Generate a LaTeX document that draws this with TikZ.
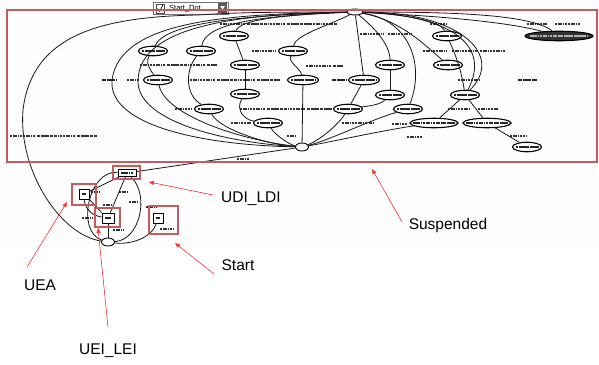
\documentclass[tikz,border=0pt]{standalone}
\usepackage{fontspec}
\setmainfont{Liberation Sans}
\usetikzlibrary{shapes.geometric,arrows.meta}
\definecolor{boxred}{RGB}{200,90,95}
\definecolor{callred}{RGB}{255,45,45}
\begin{document}
\begin{tikzpicture}[x=1pt,y=-1pt,
  edge/.style={line width=0.8pt, black!90},
  inlbl/.style={line width=1.5pt, black!85,
    dash pattern=on 2.5pt off 0.5pt on 1pt off 0.4pt on 3pt off 0.5pt on 1.5pt off 0.4pt},
  barpic/.style={path picture={\draw[inlbl] ([xshift=3pt]path picture bounding box.west) -- ([xshift=-3pt]path picture bounding box.east);}},
  gnode/.style={ellipse, draw, line width=1.1pt, minimum width=#1, minimum height=9.5pt,
    inner sep=0pt, fill=white, barpic},
  gnode/.default=29pt,
  darknode/.style={ellipse, draw, line width=1.1pt, minimum width=#1, minimum height=9.5pt,
    inner sep=0pt, fill=black!80,
    path picture={\draw[inlbl, white!70!black] ([xshift=5pt]path picture bounding box.west) -- ([xshift=-5pt]path picture bounding box.east);}},
  hub/.style={ellipse, draw, line width=0.9pt, minimum width=13pt, minimum height=8pt,
    inner sep=0pt, fill=white},
  sqnode/.style={rectangle, draw, line width=0.8pt, minimum width=#1, minimum height=9pt,
    inner sep=0pt, fill=white, barpic},
  lbl/.style={line width=1.5pt, black!80,
    dash pattern=on 2pt off 0.5pt on 1pt off 0.5pt on 3pt off 0.6pt on 1.5pt off 0.5pt on 2.5pt off 1.2pt},
  boldlbl/.style={line width=2.6pt, black!85,
    dash pattern=on 4pt off 0.6pt on 3pt off 0.5pt on 5pt off 0.6pt},
  frame/.style={draw=boxred, line width=1.4pt},
  callout/.style={draw=callred, line width=0.6pt, -{Triangle[length=5pt,width=4pt]}},
  tag/.style={font=\fontsize{15.5}{16}\selectfont, inner sep=0pt}
]
\useasboundingbox (0,0) rectangle (599,364);

% faint screen area behind the graph
\fill[black!0.8] (0,0) rectangle (596,248);

% combo box on top of the frame
\draw[black!55, fill=white] (153,2) rectangle (228,14);
\draw[black!70, line width=0.5pt] (156,4) rectangle (164,13);
\draw[black, line width=0.7pt] (157.5,8.5) -- (159.5,11.2) -- (163,5);
\node[anchor=west, font=\fontsize{7.5}{8}\selectfont, inner sep=0pt] (combo) at (169,8.5) {Start\_Dot};
\fill[black!65] (218,3) rectangle (227,13);
\fill[white] (220,6) -- (225,6) -- (222.5,9.5) -- cycle;

% edge labels (drawn first so that the states sit on top)
\draw[lbl] (10,136) -- (97,136);
\draw[boldlbl] (102,80) -- (116,80);
\draw[lbl] (127,80) -- (140,80);
\draw[lbl] (140,65) -- (217,65);
\draw[lbl] (190,80) -- (280,80);
\draw[lbl] (175,109) -- (192,109);
\draw[lbl] (240,109) -- (332,109);
\draw[lbl] (231,123) -- (251,123);
\draw[lbl] (342,123) -- (373,123);
\draw[lbl] (252,51) -- (275,51);
\draw[lbl] (306,66) -- (343,66);
\draw[lbl] (220,24) -- (337,24);
\draw[lbl] (360,34) -- (383,34);
\draw[lbl] (388,34) -- (412,34);
\draw[lbl] (423,51) -- (447,51);
\draw[lbl] (452,51) -- (477,51);
\draw[lbl] (480,51) -- (505,51);
\draw[lbl] (458,80) -- (480,80);
\draw[lbl] (448,109) -- (470,109);
\draw[lbl] (478,109) -- (498,109);
\draw[lbl] (392,124) -- (407,124);
\draw[lbl] (407,137) -- (422,137);
\draw[lbl] (510,136) -- (527,136);
\draw[lbl] (430,24) -- (447,24);
\draw[lbl] (527,24) -- (547,24);
\draw[lbl] (555,24) -- (580,24);
\draw[lbl] (287,136) -- (296,136);
\draw[lbl] (237,159) -- (250,159);
\draw[boldlbl] (332,80) -- (347,80);
\draw[boldlbl] (518,80) -- (537,80);

% ---------------- main state graph ----------------
\node[hub, minimum width=16pt, minimum height=6pt] (T) at (355,12) {};
\node[hub] (H) at (302,147) {};
\node[gnode] (e1) at (153,51) {};
\node[gnode] (e2) at (201,51) {};
\node[gnode] (e3) at (234,36) {};
\node[gnode] (e4) at (293,51) {};
\node[gnode] (e5) at (245,65) {};
\node[gnode] (e6) at (158,80) {};
\node[gnode=31pt] (e7) at (303,80) {};
\node[gnode] (e8) at (245,94) {};
\node[gnode] (e9) at (209,109) {};
\node[gnode] (e10) at (268,123) {};
\node[gnode=31pt] (e11) at (364,80) {};
\node[gnode] (e12) at (390,65) {};
\node[gnode] (e13) at (447,36) {};
\node[gnode] (e14) at (448,65) {};
\node[gnode] (e15) at (390,95) {};
\node[gnode] (e16) at (348,109) {};
\node[gnode] (e17) at (465,95) {};
\node[gnode] (e18) at (408,109) {};
\node[gnode=48pt] (e19) at (434,123) {};
\node[gnode=48pt] (e20) at (487,123) {};
\node[gnode] (e21) at (527,147) {};
\node[darknode=68pt] (e22) at (559,36) {};

% left fan
\draw[edge] (T) .. controls (230,14) and (120,20) .. (112,80) .. controls (108,125) and (200,145) .. (H);
\draw[edge] (T) .. controls (240,14) and (140,25) .. (138,80) .. controls (136,120) and (220,142) .. (H);
\draw[edge] (T) .. controls (250,15) and (165,22) .. (e1);
\draw[edge] (e1) .. controls (145,62) and (150,70) .. (e6);
\draw[edge] (e6) .. controls (165,115) and (240,140) .. (H);
\draw[edge] (T) .. controls (250,16) and (205,25) .. (e2);
\draw[edge] (e2) .. controls (185,70) and (185,95) .. (e9);
\draw[edge] (e9) .. controls (220,130) and (270,145) .. (H);
\draw[edge] (T) .. controls (280,15) and (240,20) .. (e3);
\draw[edge] (e3) -- (e5);
\draw[edge] (e5) -- (e8);
\draw[edge] (e8) .. controls (235,110) and (245,120) .. (e10);
\draw[edge] (e10) .. controls (275,135) and (290,145) .. (H);
\draw[edge] (T) .. controls (330,25) and (295,35) .. (e4);
\draw[edge] (e4) .. controls (288,62) and (300,68) .. (e7);
\draw[edge] (e7) -- (H);
% right fan
\draw[edge] (T) -- (e11);
\draw[edge] (e11) -- (e16);
\draw[edge] (e16) .. controls (338,125) and (320,140) .. (H);
\draw[edge] (T) .. controls (410,20) and (425,65) .. (e18);
\draw[edge] (e18) .. controls (370,120) and (330,140) .. (H);
\draw[edge] (T) .. controls (375,28) and (390,45) .. (e12);
\draw[edge] (e12) -- (e15);
\draw[edge] (e15) .. controls (380,105) and (368,106) .. (e16);
\draw[edge] (T) .. controls (400,14) and (440,20) .. (e13);
\draw[edge] (T) .. controls (400,20) and (425,45) .. (e14);
\draw[edge] (e13) .. controls (458,60) and (462,75) .. (e17);
\draw[edge] (T) .. controls (450,15) and (492,45) .. (e17);
\draw[edge] (T) .. controls (460,12) and (505,55) .. (e17);
\draw[edge] (e17) -- (e19);
\draw[edge] (e17) -- (e20);
\draw[edge] (e20) -- (e21);
\draw[edge] (e19) .. controls (385,130) and (330,142) .. (H);
\draw[edge] (T) .. controls (450,12) and (530,14) .. (e22);
\draw[edge] (T) .. controls (460,17) and (515,24) .. (e22);

% ---------------- start cluster ----------------
\draw[lbl] (119,192) -- (128,192);
\draw[lbl] (91,192) -- (100,192);
\draw[lbl] (129,202) -- (137,202);
\draw[lbl] (82,218) -- (92,218);
\draw[lbl] (103,205) -- (112,205);
\draw[lbl] (113,230) -- (123,230);
\draw[lbl] (160,229) -- (174,229);
\draw[lbl] (146,207) -- (157,207);

\node[sqnode=18pt, minimum height=7pt] (U) at (127,173) {};
\node[sqnode=10pt, minimum height=10pt] (A) at (84,194) {};
\node[sqnode=12pt, minimum height=10pt] (L) at (108,218) {};
\node[sqnode=10pt, minimum height=10pt] (S) at (158,218) {};
\node[hub] (B) at (108,242) {};

\draw[edge] (T) .. controls (250,12) and (230,13) .. (197,15) .. controls (100,17) and (32,35) .. (23,110) .. controls (18,170) and (60,235) .. (B);
\draw[edge] (U) -- (H);
\draw[edge] (U) .. controls (88,170) and (76,232) .. (B);
\draw[edge] (U) .. controls (150,195) and (140,240) .. (B);
\draw[edge] (U) -- (A);
\draw[edge] (U) -- (L);
\draw[edge] (A.south east) -- (L.north west);
\draw[edge] (A.south) .. controls (86,212) and (95,216) .. (L);
\draw[edge] (L) -- (B);
\draw[edge] (S) .. controls (152,238) and (130,245) .. (B);

% highlight frames
\draw[frame] (7,10) rectangle (597,162);
\draw[frame] (113,166) rectangle (140,179);
\draw[frame] (72,184) rectangle (96,205);
\draw[frame] (95,208) rectangle (120,227);
\draw[frame] (149,206) rectangle (178,234);

% callouts
\node[tag, anchor=west] (tUDI) at (221,199) {UDI\_LDI};
\node[tag] (tSus) at (448,225) {Suspended};
\node[tag] (tStart) at (238,265) {Start};
\node[tag] (tUEA) at (40,285) {UEA};
\node[tag] (tUEI) at (108,351) {UEI\_LEI};
\coordinate (pUDI) at (149,182);
\coordinate (pSus) at (372,169);
\coordinate (pStart) at (175,243);
\coordinate (pUEA) at (67,202);
\coordinate (pUEI) at (98,228);
\draw[callout] (213,195) -- (pUDI);
\draw[callout] (402,222) -- (pSus);
\draw[callout] (214,274) -- (pStart);
\draw[callout] (27,267) -- (pUEA);
\draw[callout] (108,327) -- (pUEI);
\end{tikzpicture}
\end{document}
